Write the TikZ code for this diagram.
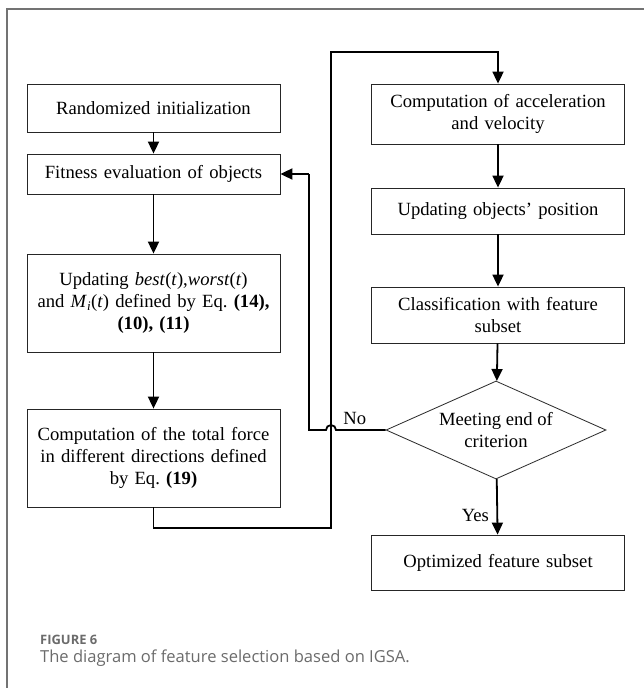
\documentclass[tikz,border=0pt]{standalone}
\usepackage{fontspec}
\setmainfont{Liberation Serif}
\newfontfamily\capfont{Open Sans}
\usetikzlibrary{arrows.meta,shapes.geometric}
\frenchspacing
\begin{document}
\begin{tikzpicture}[x=1bp,y=-1bp,
  stepbox/.style={draw=black!85,line width=0.8bp,fill=white,minimum width=253bp,
    text width=250bp,align=center,inner sep=0pt,font=\fontsize{18.7}{21.8}\selectfont},
  decision/.style={diamond,draw=black!85,line width=0.8bp,aspect=2.24,minimum width=220bp,
    minimum height=98bp,inner sep=0pt,align=center,font=\fontsize{18.7}{21.8}\selectfont},
  flow/.style={line width=1.8bp,-{Triangle[length=12bp,width=11bp]}},
  plainflow/.style={line width=1.8bp},
  lbl/.style={font=\fontsize{18.7}{21.8}\selectfont}]
\useasboundingbox (0,0) rectangle (644,688);
% outer frame
\draw[line width=1.6bp,black!55] (7,688) -- (7,9) -- (644,9);

% left column
\node[stepbox,minimum height=48bp] (init) at (153.5,108) {Randomized initialization};
\node[stepbox,minimum height=40bp] (fit) at (153.5,174) {Fitness evaluation of objects};
\node[stepbox,minimum height=98bp] (upd) at (153.5,303)
  {Updating \textit{best}(\textit{t}),\textit{worst}(\textit{t})\\
   and \textit{M}\textsubscript{\textit{i}}(\textit{t}) defined by Eq. \textbf{(14),}\\
   \textbf{(10), (11)}};
\node[stepbox,minimum height=98bp] (force) at (153.5,458)
  {Computation of the total force\\ in different directions defined\\ by Eq. \textbf{(19)}};

% right column
\node[stepbox,minimum height=60bp] (acc) at (498,114)
  {Computation of acceleration\\ and velocity};
\node[stepbox,minimum height=46bp] (pos) at (498,211) {Updating objects' position};
\node[stepbox,minimum height=56bp] (cls) at (498,315)
  {Classification with feature\\ subset};
\node[decision] (end) at (496,430) {Meeting end of\\ criterion};
\node[stepbox,minimum height=55bp] (opt) at (498,562.5) {Optimized feature subset};

% connectors
\draw[flow] (init) -- (fit);
\draw[flow] (fit) -- (upd);
\draw[flow] (upd) -- (force);
\draw[flow] (acc) -- (pos);
\draw[flow] (pos) -- (cls);
\draw[flow] (cls) -- (end);
\draw[flow] (end) -- node[lbl,left,xshift=-4bp,yshift=-9bp] {Yes} (opt);

\coordinate (riseA) at (153.5,528);
\coordinate (riseB) at (331,528);
\coordinate (riseC) at (331,52);
\coordinate (riseD) at (498,52);
\draw[flow] (force.south) -- (riseA) -- (riseB) -- (riseC) -- (riseD) -- (acc.north);

\coordinate (backA) at (336,430);
\coordinate (backB) at (309,430);
\coordinate (backC) at (309,174);
\draw[plainflow] (end.west) -- node[lbl,above,yshift=1bp,xshift=-6bp] {No} (backA)
  arc[start angle=0,end angle=-180,radius=5] -- (backB) -- (backC);
\draw[flow] (backC) -- (fit.east);

% caption
\node[anchor=west,text=black!58,font=\capfont\fontsize{13}{15}\selectfont\bfseries,inner sep=0pt] (figlabel) at (40,640) {FIGURE 6};
\node[anchor=west,text=black!58,font=\capfont\fontsize{16.6}{20}\selectfont,inner sep=0pt] (figtext) at (40,658) {The diagram of feature selection based on IGSA.};
\end{tikzpicture}
\end{document}
